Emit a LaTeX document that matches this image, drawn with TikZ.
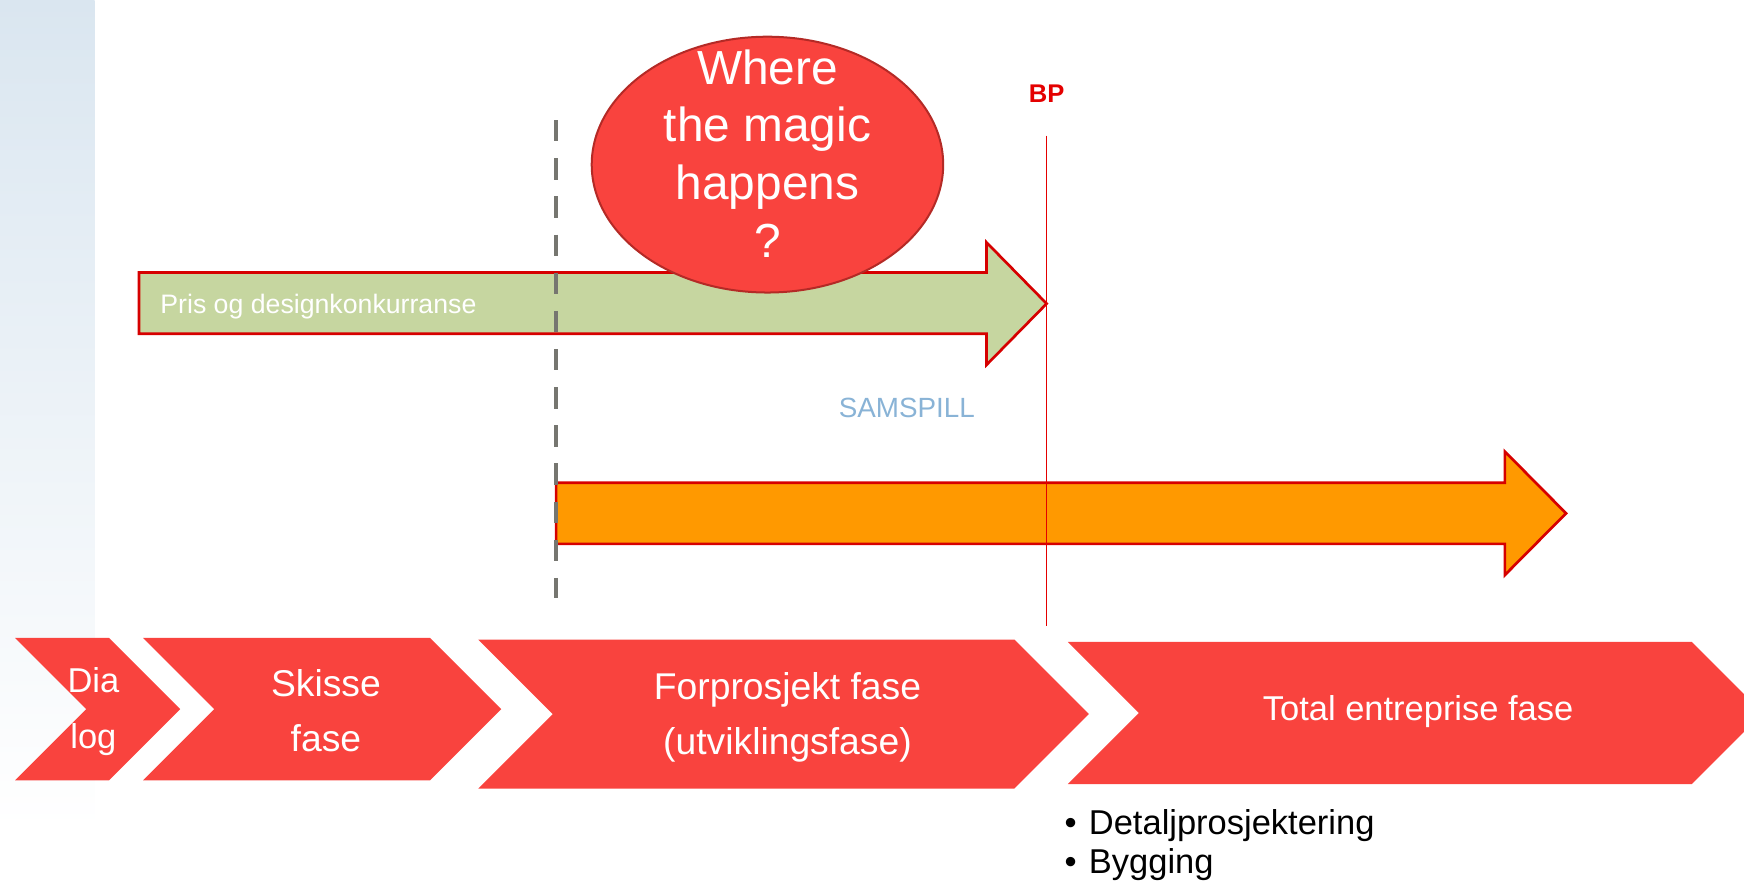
\documentclass[tikz,border=0pt]{standalone}
\usepackage{fontspec}
\setmainfont{Liberation Sans}
\usetikzlibrary{positioning,shapes.geometric}
\definecolor{phasered}{RGB}{249,67,62}
\definecolor{magicedge}{RGB}{180,42,38}
\definecolor{arrowedge}{RGB}{214,0,0}
\definecolor{prisgreen}{RGB}{198,214,160}
\definecolor{samorange}{RGB}{255,153,0}
\definecolor{cutgray}{RGB}{118,118,112}
\definecolor{bpred}{RGB}{228,0,0}
\definecolor{samblue}{RGB}{137,179,214}
\definecolor{stripblue}{RGB}{218,230,240}

\begin{document}
\begin{tikzpicture}[x=1pt, y=-1pt,
        phase/.style={fill=phasered, draw=none},
        phasetext/.style={text=white, align=center, inner sep=0pt, font=\fontsize{31}{50}\selectfont},
        blockarrow/.style={draw=arrowedge, line width=2.4pt, line join=miter},
        plaintext/.style={anchor=base west, inner sep=0pt}]
            \clip (0,0) rectangle (1568,793);
            \shade[top color=stripblue, bottom color=white] (0,0) rectangle (85,746);

            \foreach \xl/\xr/\yt/\yb in {13.5/98/573.5/701.5, 128.6/386.7/573.5/701.5, 430/912/575/709, 960/1521/577/705}
                \fill[phase] (\xl,\yt) -- (\xr,\yt) -- ++({(\yb-\yt)/2},{(\yb-\yt)/2}) -- (\xr,\yb) -- (\xl,\yb) -- ++({(\yb-\yt)/2},{-(\yb-\yt)/2}) -- cycle;
            \node[phasetext] (dialog) at (84,640) {Dia\\log};
            \node[phasetext, font=\fontsize{33.5}{50}\selectfont] (skisse) at (293,639) {Skisse\\fase};
            \node[phasetext, font=\fontsize{33.5}{50}\selectfont] (forprosjekt) at (708,645) {Forprosjekt fase\\(utviklingsfase)};
            \node[phasetext] (total) at (1275,640) {Total entreprise fase};

            \draw[blockarrow, fill=prisgreen] (125,245) -- (887,245) -- (887,218) -- (941,273) -- (887,328) -- (887,300) -- (125,300) -- cycle;
            \node[plaintext, text=white, font=\fontsize{24}{28}\selectfont] (pris) at (144,281.5) {Pris og designkonkurranse};

            \node[ellipse, fill=phasered, draw=magicedge, line width=1.8pt, minimum width=316pt, minimum height=230pt, inner sep=0pt] (magic) at (690,148) {};
            \node[text=white, align=center, inner sep=0pt, font=\fontsize{43}{52}\selectfont] (magictext) at ([yshift=10pt]magic.center) {Where\\the magic\\happens\\?};

            \draw[blockarrow, fill=samorange] (500,434) -- (1353,434) -- (1353,406) -- (1408,461.5) -- (1353,517) -- (1353,489) -- (500,489) -- cycle;
            \node[plaintext, text=samblue, font=\fontsize{25}{30}\selectfont] (samspill) at (754,375) {SAMSPILL};

            \coordinate (cuttop) at (500,108);
            \coordinate (cutbottom) at (500,538);
            \draw[cutgray, line width=3.6pt, dash pattern=on 19.2pt off 15.1pt] (cuttop) -- (cutbottom);

            \node[anchor=base, inner sep=0pt, text=bpred, font=\bfseries\fontsize{23}{28}\selectfont] (bp) at (941,92) {BP};
            \coordinate (bptop) at (941,122);
            \coordinate (bpbottom) at (941,563);
            \draw[bpred, line width=1.5pt] (bptop) -- (bpbottom);

            \node[plaintext, font=\fontsize{31}{35}\selectfont] (detalj) at (957,750) {•\hspace{11pt}Detaljprosjektering};
            \node[plaintext, font=\fontsize{31}{35}\selectfont] (bygging) at (957,785) {•\hspace{11pt}Bygging};
\end{tikzpicture}
\end{document}
